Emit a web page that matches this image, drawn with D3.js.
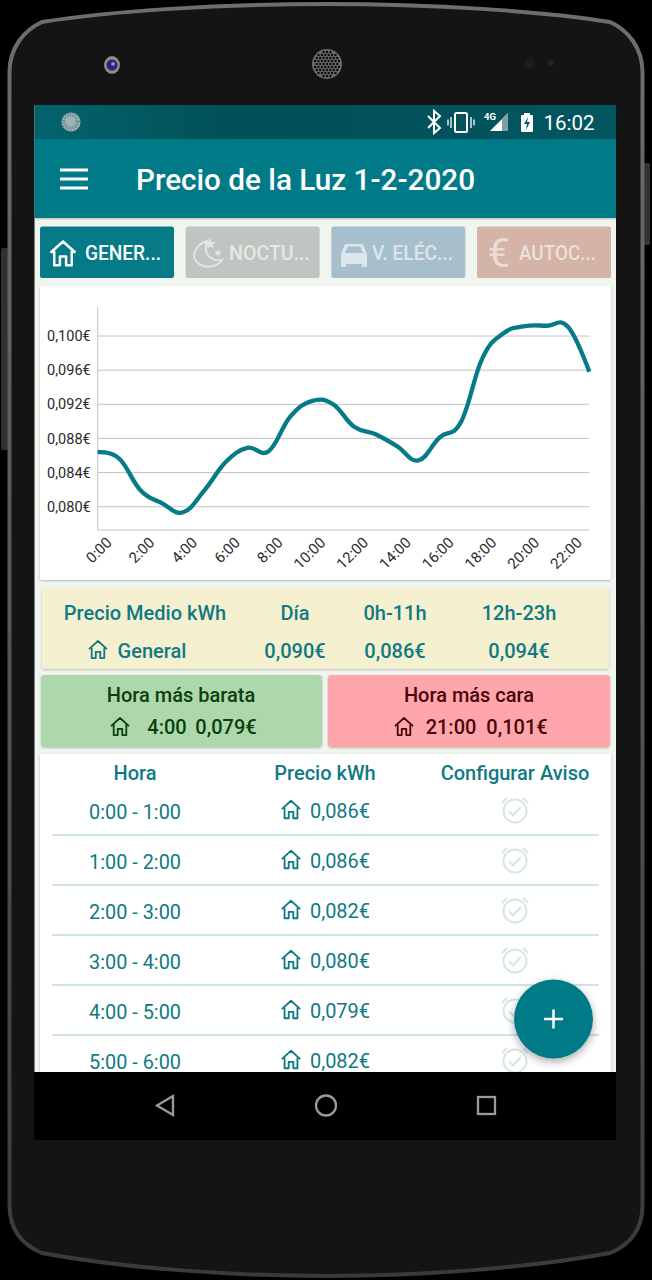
<!DOCTYPE html>
<html><head><meta charset="utf-8">
<script src="https://cdn.jsdelivr.net/npm/d3@7/dist/d3.min.js"></script>
<style>html,body{margin:0;padding:0;background:#000;overflow:hidden}svg{display:block}text{font-family:Roboto,sans-serif}</style>
</head><body><svg id="p" width="652" height="1280"></svg>
<script>
const hours=d3.range(24);
const prices=[.08639,.08565,.08194,.08041,.07935,.08194,.08526,.08690,.08651,.09053,.09238,.09202,.08936,.08850,.08710,.08542,.08812,.08995,.09742,.10035,.10117,.10121,.10109,.09581];
const yTicks=[.080,.084,.088,.092,.096,.100];
const xTicks=[0,2,4,6,8,10,12,14,16,18,20,22];
const rowLabels=["0:00 - 1:00","1:00 - 2:00","2:00 - 3:00","3:00 - 4:00","4:00 - 5:00","5:00 - 6:00"];
const rowPrices=["0,086€","0,086€","0,082€","0,080€","0,079€","0,082€"];
const tabLabels=["GENER...","NOCTU...","V. ELÉC...","AUTOC..."];
const tabFills=["#067A87","#C1C5C1","#A7BFCC","#D3B4A6"];
const tabTextX=[85,229,372,519], tabTextW=[76,81,81,77];
const TEAL="#067A87",TXT="#0F7A84";
const svg=d3.select("#p");
const defs=svg.append("defs");
const eg=defs.append("linearGradient").attr("id","edge").attr("x1",0).attr("x2",0).attr("y1",0).attr("y2",1);
eg.append("stop").attr("offset",0).attr("stop-color","#6e6e6e");eg.append("stop").attr("offset",.5).attr("stop-color","#555");eg.append("stop").attr("offset",1).attr("stop-color","#3a3a3a");
const sb=defs.append("linearGradient").attr("id","sb").attr("x1",0).attr("x2",1).attr("y1",0).attr("y2",0);
sb.append("stop").attr("offset",0).attr("stop-color","#04636c");sb.append("stop").attr("offset",.35).attr("stop-color","#014f57");sb.append("stop").attr("offset",1).attr("stop-color","#02565f");
const f=defs.append("filter").attr("id","sh").attr("x","-30%").attr("y","-30%").attr("width","160%").attr("height","160%");
f.append("feDropShadow").attr("dx",0).attr("dy",3).attr("stdDeviation",4).attr("flood-color","#000").attr("flood-opacity",.35);
const cs=defs.append("filter").attr("id","cs").attr("x","-3%").attr("y","-6%").attr("width","106%").attr("height","112%");
cs.append("feDropShadow").attr("dx",0).attr("dy",1).attr("stdDeviation",1).attr("flood-color","#000").attr("flood-opacity",.25);

// phone body
const body="M9.5 72 C9.5 48 24 30 42 22 C110 11 220 4 326 4 C432 4 542 11 610 22 C628 30 642.5 48 642.5 72 L642.5 1205 C642.5 1228 632 1244 610 1253 C530 1268 420 1276 326 1276 C232 1276 122 1268 42 1253 C20 1244 9.5 1228 9.5 1205 Z";
svg.append("rect").attr("x",1).attr("y",248).attr("width",8).attr("height",202).attr("rx",2).attr("fill","#303030");
svg.append("rect").attr("x",643).attr("y",163).attr("width",7).attr("height",82).attr("rx",2).attr("fill","#333");
svg.append("path").attr("d",body).attr("fill","#141414").attr("stroke","url(#edge)").attr("stroke-width",4);
// camera & speaker
svg.append("ellipse").attr("cx",112).attr("cy",65).attr("rx",8).attr("ry",9).attr("fill","#8a8a92");
svg.append("circle").attr("cx",112).attr("cy",65).attr("r",5.5).attr("fill","#2a2570");
svg.append("circle").attr("cx",113).attr("cy",64).attr("r",2).attr("fill","#8c88d8");
svg.append("circle").attr("cx",327).attr("cy",64).attr("r",15).attr("fill","#6a6a6a");
d3.range(-4,5).forEach(r=>d3.range(-4,5).forEach(c=>{
  const dx=c*3.4+(r%2?1.7:0),dy=r*3;
  if(dx*dx+dy*dy<170) svg.append("circle").attr("cx",327+dx).attr("cy",64+dy).attr("r",1.2).attr("fill","#0c0c0c");
}));
svg.append("circle").attr("cx",530).attr("cy",63).attr("r",5).attr("fill","#1c1c1c");
svg.append("circle").attr("cx",551).attr("cy",63).attr("r",3).attr("fill","#222");

// screen
svg.append("rect").attr("x",34.5).attr("y",105).attr("width",581.5).attr("height",967).attr("fill","#F0F5EF");
svg.append("rect").attr("x",34.5).attr("y",105).attr("width",581.5).attr("height",34).attr("fill","url(#sb)");
svg.append("rect").attr("x",34.5).attr("y",139).attr("width",581.5).attr("height",79).attr("fill",TEAL).attr("filter","url(#cs)");
svg.append("rect").attr("x",34.5).attr("y",1072).attr("width",581.5).attr("height",68).attr("fill","#000");

function text(g,s,x,y,o={}){const t=g.append("text").text(s).attr("x",x).attr("y",y).attr("text-anchor",o.a||"middle").attr("dominant-baseline","central").attr("font-size",o.s||20).attr("font-weight",o.w||400).attr("fill",o.f||TXT);
 if(o.len)t.attr("textLength",o.len).attr("lengthAdjust","spacingAndGlyphs");return t;}
const homeD="M-10 -1 L0 -10 L10 -1 M-7 -2.5 V9 H-2.5 V2 H2.5 V9 H7 V-2.5";
function home(x,y,c,sc=1,sw=2){svg.append("path").attr("transform",`translate(${x},${y}) scale(${sc})`).attr("d",homeD).attr("fill","none").attr("stroke",c).attr("stroke-width",sw).attr("stroke-linejoin","round");}

// status bar
svg.append("circle").attr("cx",71).attr("cy",122).attr("r",9.5).attr("fill","#9fb3b5");
svg.append("circle").attr("cx",70.5).attr("cy",121.5).attr("r",7).attr("fill","none").attr("stroke","#5f8086").attr("stroke-width",4).attr("stroke-dasharray","1 1.5");
svg.append("path").attr("d","M428 116 L440 128 L434 133 V111 L440 116 L428 128").attr("fill","none").attr("stroke","#fff").attr("stroke-width",2);
svg.append("rect").attr("x",455).attr("y",113).attr("width",12).attr("height",19).attr("rx",1.5).attr("fill","none").attr("stroke","#fff").attr("stroke-width",2);
svg.append("path").attr("d","M451 117 V128 M471 117 V128 M448 119.5 V125.5 M474 119.5 V125.5").attr("stroke","#fff").attr("stroke-width",1.3);
svg.append("path").attr("d","M508 113 V131 H490 Z").attr("fill","#fff");
svg.append("path").attr("d","M508 113 V131 H502 V119 Z").attr("fill","#7f9ea1");
text(svg,"4G",490,116,{s:9.5,w:700,f:"#fff"});
svg.append("rect").attr("x",521).attr("y",115).attr("width",12).attr("height",17).attr("rx",1).attr("fill","#fff");
svg.append("rect").attr("x",524).attr("y",113).attr("width",6).attr("height",3).attr("fill","#fff");
svg.append("path").attr("d","M528 117 L524 124 H527 L526 130 L530 122 H527 Z").attr("fill","#02565f");
text(svg,"16:02",569,122.5,{s:20.5,f:"#fff"});

// app bar
svg.append("path").attr("d","M60 170 H88 M60 179 H88 M60 188 H88").attr("stroke","#fff").attr("stroke-width",3);
text(svg,"Precio de la Luz 1-2-2020",136,180,{a:"start",s:29,w:500,f:"#fff",len:339});

// tabs
const tabX=d3.scaleBand().domain(d3.range(4)).range([40,611]).paddingInner(.08).paddingOuter(0);
tabLabels.forEach((t,i)=>{
 const x=tabX(i),w=tabX.bandwidth();
 svg.append("rect").attr("x",x).attr("y",226.5).attr("width",w).attr("height",51.5).attr("rx",2.5).attr("fill",tabFills[i]);
 text(svg,t,tabTextX[i],253,{a:"start",s:21,w:500,f:i?"rgba(255,255,255,.62)":"#fff",len:tabTextW[i]});
});
home(63,254,"#fff",1.25,2);
// moon
svg.append("path").attr("d","M207 241 C194 245 191 258 198 263 C206 270 218 266 222 260 C212 262 202 254 207 241 Z").attr("fill","none").attr("stroke","rgba(255,255,255,.55)").attr("stroke-width",2);
svg.append("path").attr("d","M210 238 l1.5 4 4.2 .2 -3.3 2.6 1.2 4.1 -3.6 -2.3 -3.6 2.3 1.2 -4.1 -3.3 -2.6 4.2 -.2z").attr("fill","rgba(255,255,255,.55)");
svg.append("path").attr("d","M218 249 l1 2.6 2.8 .1 -2.2 1.7 .8 2.7 -2.4 -1.5 -2.4 1.5 .8 -2.7 -2.2 -1.7 2.8 -.1z").attr("fill","rgba(255,255,255,.55)");
// car
svg.append("path").attr("d","M341 254 L345 244 H363 L367 254 V267 H362 V264 H346 V267 H341 Z").attr("fill","rgba(255,255,255,.6)");
svg.append("path").attr("d","M345 253 L348 246.5 H360 L363 253 Z").attr("fill","#A7BFCC");
// euro
text(svg,"€",499,253,{s:40,w:400,f:"rgba(255,255,255,.55)"});

// chart card
svg.append("rect").attr("x",40).attr("y",286).attr("width",571).attr("height",294).attr("rx",3).attr("fill","#fff").attr("filter","url(#cs)");
const x=d3.scaleLinear().domain([0,23]).range([97.7,589.3]);
const y=d3.scaleLinear().domain([.07727,.10344]).range([530,306.7]);
const gridG=svg.append("g");
gridG.selectAll("line").data(yTicks).join("line").attr("x1",x(0)).attr("x2",x(23)).attr("y1",d=>y(d)).attr("y2",d=>y(d)).attr("stroke","#C4C4C4").attr("stroke-width",1);
gridG.append("line").attr("x1",x(0)).attr("x2",x(23)).attr("y1",530).attr("y2",530).attr("stroke","#C4C4C4");
gridG.append("line").attr("x1",x(0)).attr("x2",x(0)).attr("y1",306.7).attr("y2",530).attr("stroke","#C4C4C4");
const yAx=svg.append("g").attr("transform",`translate(${x(0)},0)`).call(d3.axisLeft(y).tickValues(yTicks).tickSize(0).tickPadding(7).tickFormat(d=>d.toFixed(3).replace(".",",")+"€"));
yAx.select(".domain").remove();
yAx.selectAll("text").attr("font-size",14.5).attr("font-family","Roboto").attr("fill","#2a2a2a");
const xAx=svg.append("g").attr("transform","translate(0,530)").call(d3.axisBottom(x).tickValues(xTicks).tickSize(0).tickFormat(d=>d+":00"));
xAx.select(".domain").remove();
xAx.selectAll("text").attr("font-size",15).attr("font-family","Roboto").attr("fill","#2a2a2a").attr("text-anchor","end").attr("dy",0).attr("y",0).attr("transform","translate(11,10) rotate(-45)").attr("dominant-baseline","central");
svg.append("path").datum(hours).attr("fill","none").attr("stroke",TEAL).attr("stroke-width",4.3).attr("stroke-linejoin","round")
 .attr("d",d3.line().x(h=>x(h)).y(h=>y(prices[h])).curve(d3.curveCardinal.tension(-0.2)));

// yellow card
svg.append("rect").attr("x",42).attr("y",588).attr("width",567).attr("height",81).attr("rx",3).attr("fill","#F5F1D0").attr("filter","url(#cs)");
const m={s:20,w:500};
text(svg,"Precio Medio kWh",145,613,m);text(svg,"Día",295,613,m);text(svg,"0h-11h",395,613,m);text(svg,"12h-23h",519,613,m);
home(98,650,TXT,.9,2);
text(svg,"General",152,651,m);text(svg,"0,090€",295,651,m);text(svg,"0,086€",395,651,m);text(svg,"0,094€",519,651,m);
// green/red
svg.append("rect").attr("x",41).attr("y",675).attr("width",281).attr("height",72).attr("rx",3).attr("fill","#ADD8AD").attr("filter","url(#cs)");
svg.append("rect").attr("x",328).attr("y",675).attr("width",282).attr("height",72).attr("rx",3).attr("fill","#FFA5AC").attr("filter","url(#cs)");
const G="#0B3F0B",R="#4A0509";
text(svg,"Hora más barata",181,695,{s:20,w:500,f:G});
home(120,727,G,.9,2);text(svg,"4:00",167,727,{s:20,w:500,f:G});text(svg,"0,079€",226,727,{s:20,w:500,f:G});
text(svg,"Hora más cara",469,695,{s:20,w:500,f:R});
home(404,727,R,.9,2);text(svg,"21:00",451,727,{s:20,w:500,f:R});text(svg,"0,101€",517,727,{s:20,w:500,f:R});

// table
svg.append("rect").attr("x",40).attr("y",754).attr("width",571).attr("height",318).attr("fill","#fff").attr("filter","url(#cs)");
text(svg,"Hora",135,773,m);text(svg,"Precio kWh",325,773,m);text(svg,"Configurar Aviso",515,773,m);
const rowY=d3.scaleLinear().domain([0,5]).range([811,1061]);
rowLabels.forEach((r,i)=>{
 const yy=rowY(i);
 text(svg,r,135,yy+.5,{s:21,len:92});
 home(291,yy-1,TXT,.92,2);
 text(svg,rowPrices[i],340,yy+.3,{s:21,len:60});
 const a=svg.append("g").attr("transform",`translate(515,${yy})`).attr("fill","none").attr("stroke","#D5E6E6").attr("stroke-width",2);
 a.append("circle").attr("r",11.5);
 a.append("path").attr("d","M-6 0 L-2 4.5 L6 -4 M-13 -8 L-8 -13 M13 -8 L8 -13");
 if(i<5) svg.append("line").attr("x1",52).attr("x2",599).attr("y1",yy+24).attr("y2",yy+24).attr("stroke","#BFDCDC").attr("stroke-width",1.5);
});
svg.append("rect").attr("x",34.5).attr("y",1072).attr("width",581.5).attr("height",68).attr("fill","#000");

// FAB
svg.append("circle").attr("cx",553.5).attr("cy",1019).attr("r",39.5).attr("fill",TEAL).attr("filter","url(#sh)");
svg.append("path").attr("d","M544 1019 H563 M553.5 1009.5 V1028.5").attr("stroke","#fff").attr("stroke-width",2.5);

// nav
const n=svg.append("g").attr("fill","none").attr("stroke","#9a9a9a").attr("stroke-width",2.3);
n.append("path").attr("d","M173 1096 V1115 L157 1105.5 Z");
n.append("circle").attr("cx",326).attr("cy",1105.5).attr("r",10);
n.append("rect").attr("x",478).attr("y",1097).attr("width",17).attr("height",17);
</script></body></html>
